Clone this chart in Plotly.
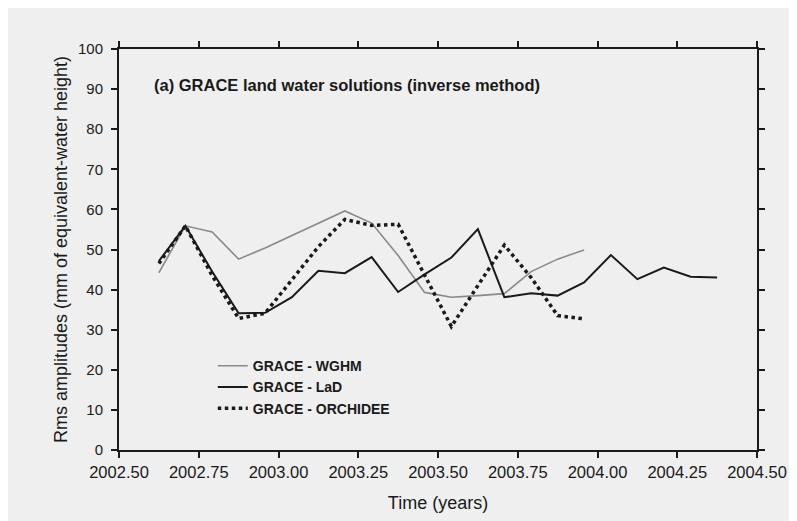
import plotly.graph_objects as go

# time (decimal years), monthly solutions
t_wghm = [2002.625, 2002.708, 2002.792, 2002.875, 2002.958, 2003.042, 2003.125, 2003.208,
          2003.292, 2003.375, 2003.458, 2003.542, 2003.625, 2003.708, 2003.792, 2003.875, 2003.958]
wghm = [44.2, 55.9, 54.4, 47.6, 50.4, 53.5, 56.5, 59.6,
        56.6, 48.5, 39.3, 38.1, 38.5, 39.0, 44.5, 47.6, 49.9]

t_lad = [2002.625, 2002.708, 2002.792, 2002.875, 2002.958, 2003.042, 2003.125, 2003.208,
         2003.292, 2003.375, 2003.458, 2003.542, 2003.625, 2003.708, 2003.792, 2003.875,
         2003.958, 2004.042, 2004.125, 2004.208, 2004.292, 2004.375]
lad = [47.1, 55.9, 44.5, 34.1, 34.2, 38.1, 44.7, 44.1,
       48.1, 39.4, 43.8, 48.0, 55.1, 38.1, 39.1, 38.5,
       41.8, 48.6, 42.6, 45.5, 43.2, 43.0]

t_orch = [2002.625, 2002.708, 2002.792, 2002.875, 2002.958, 2003.042, 2003.125, 2003.208,
          2003.292, 2003.375, 2003.458, 2003.542, 2003.625, 2003.708, 2003.792, 2003.875, 2003.958]
orch = [46.5, 55.9, 43.5, 32.8, 34.1, 42.5, 50.7, 57.5,
        56.0, 56.3, 43.5, 30.8, 41.0, 51.1, 43.0, 33.5, 32.7]

x_ticks = [2002.50, 2002.75, 2003.00, 2003.25, 2003.50, 2003.75, 2004.00, 2004.25, 2004.50]
y_ticks = list(range(0, 101, 10))

BG = "#efefef"

fig = go.Figure()
fig.add_trace(go.Scatter(x=t_wghm, y=wghm, mode="lines", name="GRACE - WGHM",
                         line=dict(color="#8a8a8a", width=1.6)))
fig.add_trace(go.Scatter(x=t_lad, y=lad, mode="lines", name="GRACE - LaD",
                         line=dict(color="#1a1a1a", width=2)))
fig.add_trace(go.Scatter(x=t_orch, y=orch, mode="lines", name="GRACE - ORCHIDEE",
                         line=dict(color="#1a1a1a", width=3.5, dash="dot")))

axis_common = dict(showgrid=False, zeroline=False, showline=True, linecolor="#1a1a1a",
                   linewidth=2, mirror="ticks", ticks="outside", ticklen=6,
                   tickwidth=1.5, tickcolor="#1a1a1a")

fig.update_layout(
    width=797, height=521,
    margin=dict(l=111, r=48, t=41, b=79),
    paper_bgcolor=BG, plot_bgcolor=BG,
    font=dict(family="Liberation Sans, Arial, sans-serif", color="#1a1a1a"),
    xaxis=dict(range=[2002.5, 2004.5], tickvals=x_ticks,
               ticktext=[f"{v:.2f}" for v in x_ticks],
               tickfont=dict(size=16.5),
               title=dict(text="Time (years)", font=dict(size=18), standoff=17),
               **axis_common),
    yaxis=dict(range=[0, 100], tickvals=y_ticks, tickfont=dict(size=15),
               ticklabelstandoff=5,
               title=dict(text="Rms amplitudes (mm of equivalent-water height)",
                          font=dict(size=18), standoff=6),
               **axis_common),
    showlegend=True,
    legend=dict(x=0.147, y=0.249, xanchor="left", yanchor="top",
                bgcolor="rgba(0,0,0,0)", tracegroupgap=0,
                font=dict(size=14, family="Liberation Sans, Arial, sans-serif",
                          weight="bold")),
    annotations=[dict(text="<b>(a) GRACE land water solutions (inverse method)</b>",
                      xref="paper", yref="paper", x=0.0517, y=0.909,
                      xanchor="left", yanchor="middle", showarrow=False,
                      font=dict(size=16.5, color="#1a1a1a"))],
)

fig.write_html("out.html")
